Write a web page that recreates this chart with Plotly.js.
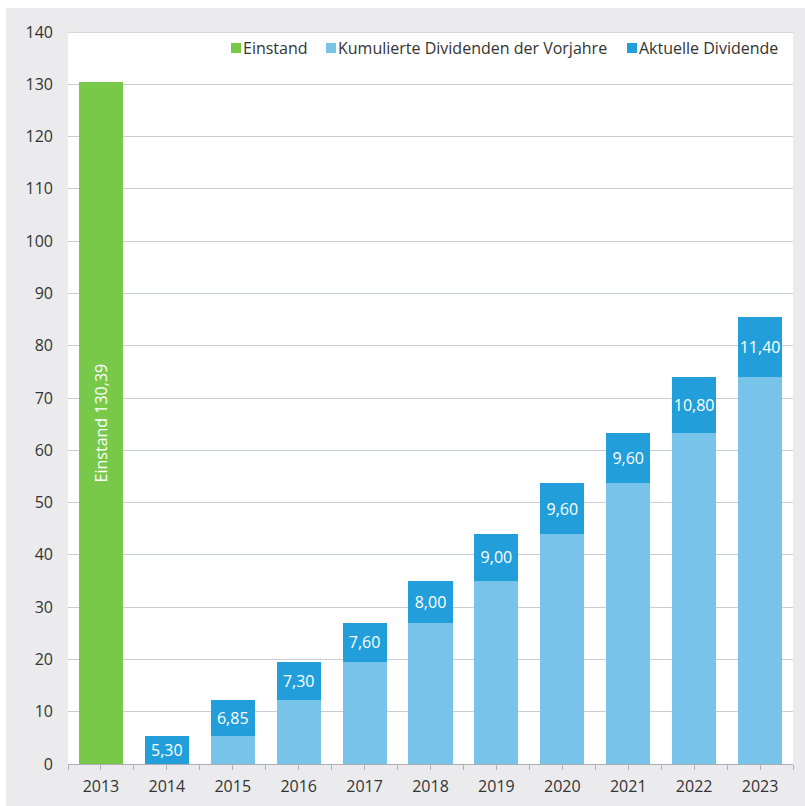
<!DOCTYPE html>
<html><head><meta charset="utf-8">
<script src="https://cdn.plot.ly/plotly-3.0.1.min.js"></script>
<style>html,body{margin:0;padding:0;background:#fff;}#chart{position:absolute;left:6px;top:8px;width:799px;height:798px;}</style>
</head><body><div id="chart"></div>
<script>
const years = ['2013','2014','2015','2016','2017','2018','2019','2020','2021','2022','2023'];
const einstandYears = ['2013'];
const einstand = [130.39];
const divYears = ['2014','2015','2016','2017','2018','2019','2020','2021','2022','2023'];
const kumuliert = [0, 5.30, 12.15, 19.45, 27.05, 35.05, 44.05, 53.65, 63.25, 74.05];
const aktuell = [5.30, 6.85, 7.30, 7.60, 8.00, 9.00, 9.60, 9.60, 10.80, 11.40];
const yTicks = [0,10,20,30,40,50,60,70,80,90,100,110,120,130,140];
const legendNames = ['Einstand', 'Kumulierte Dividenden der Vorjahre', 'Aktuelle Dividende'];
const colors = ['#78c94a', '#78c3ea', '#229fdb'];

const fmt = v => v.toFixed(2).replace('.', ',');
const FONT = '"Open Sans", "Noto Sans", sans-serif';

const traces = [
  {type:'bar', name:legendNames[0], x:einstandYears, y:einstand,
   marker:{color:colors[0]}, text:einstand.map(v=>'Einstand '+fmt(v)),
   textposition:'inside', textangle:-90, insidetextanchor:'middle', constraintext:'none',
   insidetextfont:{color:'#fff', size:16, family:FONT}, hoverinfo:'none'},
  {type:'bar', name:legendNames[1], x:divYears, y:kumuliert,
   marker:{color:colors[1]}, hoverinfo:'none', textposition:'none'},
  {type:'bar', name:legendNames[2], x:divYears, y:aktuell,
   marker:{color:colors[2]}, text:aktuell.map(fmt),
   textposition:'inside', textangle:0, insidetextanchor:'middle', constraintext:'none',
   insidetextfont:{color:'#fff', size:16, family:FONT}, hoverinfo:'none'},
  {type:'scatter', x:[0], y:[0], xaxis:'x2', mode:'markers', marker:{opacity:0}, showlegend:false, hoverinfo:'none'}
];

// manual legend (plot area spans 725 x 732 px)
const PW = 725, PH = 732;
const legX = [163, 258, 559];   // px from plot left: square start
const legY = 716;               // px from plot bottom: centre
const shapes = [{type:'line', xref:'paper', yref:'y', x0:0, x1:1, y0:140, y1:140, line:{color:'#a8b0b8', width:1}}];
const annotations = [];
legendNames.forEach((n, i) => {
  shapes.push({type:'rect', xref:'paper', yref:'paper',
    x0:legX[i]/PW, x1:(legX[i]+10)/PW, y0:(legY-5)/PH, y1:(legY+5)/PH,
    fillcolor:colors[i], line:{width:0}});
  annotations.push({xref:'paper', yref:'paper', x:(legX[i]+11)/PW, y:legY/PH,
    xanchor:'left', yanchor:'middle', text:n, showarrow:false,
    font:{size:16, color:'#333', family:FONT}, borderpad:0});
});

const layout = {
  width:799, height:798,
  paper_bgcolor:'#ebebed', plot_bgcolor:'#ffffff',
  margin:{l:62, r:12, t:24, b:42},
  barmode:'stack', bargap:0.33,
  font:{family:FONT, color:'#333', size:16},
  showlegend:false,
  xaxis:{type:'category', categoryarray:years, categoryorder:'array',
    showgrid:false, showline:true, linecolor:'#a8b0b8', linewidth:1,
    ticks:'', ticklabelstandoff:8, tickfont:{size:16, color:'#333'}, fixedrange:true},
  xaxis2:{overlaying:'x', type:'linear', range:[-0.5,10.5], tick0:-0.5, dtick:0.5,
    ticks:'outside', ticklen:5, tickcolor:'#a8b0b8', showticklabels:false,
    showgrid:false, zeroline:false, showline:false, anchor:'y', side:'bottom'},
  yaxis:{range:[0,140], tickvals:yTicks, ticktext:yTicks.map(String),
    showgrid:true, gridcolor:'#c8cdd2', gridwidth:1, zeroline:false,
    showline:false, ticks:'', ticklabelstandoff:14, tickfont:{size:16, color:'#333'}},
  shapes: shapes,
  annotations: annotations
};

Plotly.newPlot('chart', traces, layout, {staticPlot:true, displayModeBar:false});
</script></body></html>
